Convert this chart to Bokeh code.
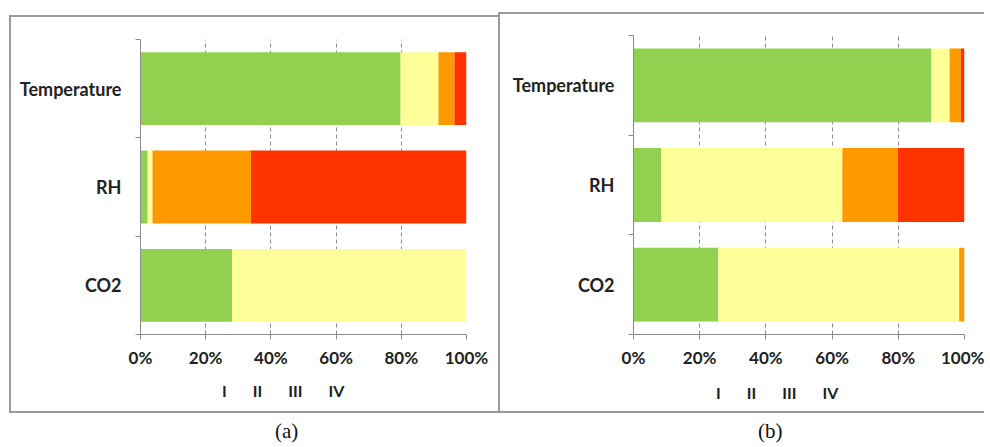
from bokeh.plotting import figure
from bokeh.models import (Range1d, FixedTicker, PrintfTickFormatter, Legend, LegendItem,
                          Div, ColumnDataSource, Spacer, CDSView, IndexFilter)
from bokeh.layouts import row, column
from bokeh.embed import file_html
from bokeh.resources import INLINE

# ---- data ----
categories = ["CO2", "RH", "Temperature"]          # bottom to top
levels = ["I", "II", "III", "IV"]
colors = ["#92D050", "#FFFF99", "#FF9900", "#FF3300"]
x_ticks = [0, 20, 40, 60, 80, 100]

a_I = [28.1, 2.2, 79.8]
a_II = [71.9, 1.5, 11.6]
a_III = [0.0, 30.2, 4.9]
a_IV = [0.0, 66.1, 3.7]

b_I = [25.6, 8.4, 90.0]
b_II = [72.8, 54.7, 5.5]
b_III = [1.6, 16.8, 3.4]
b_IV = [0.0, 20.1, 1.1]

FONT = "Lato"
TXT = "#222222"
GRAY = "#8c8c8c"
BORDER = "2px solid #9a9a9a"


def make_source(series):
    data = dict(y=[i + 0.5 for i in range(len(categories))])
    for lv, vals in zip(levels, series):
        data[lv] = vals
    return ColumnDataSource(data)


def make_chart(src, width, height, mbl, mbr, mbt, mbb):
    p = figure(width=width, height=height, x_range=Range1d(0, 100),
               y_range=Range1d(0, len(categories)), output_backend="svg",
               toolbar_location=None, min_border_left=mbl, min_border_right=mbr,
               min_border_top=mbt, min_border_bottom=mbb)
    p.styles = {"border-left": BORDER, "border-top": BORDER}
    p.outline_line_color = None
    p.hbar_stack(levels, y="y", height=0.74, color=colors, source=src, line_width=0)

    xa = p.xaxis[0]
    xa.ticker = FixedTicker(ticks=x_ticks, minor_ticks=[])
    xa.formatter = PrintfTickFormatter(format="%d%%")
    xa.axis_line_color = GRAY
    xa.major_tick_line_color = GRAY
    xa.major_tick_out = 5
    xa.major_tick_in = 0
    xa.minor_tick_out = 0
    xa.major_label_standoff = 7
    xa.major_label_text_font = FONT
    xa.major_label_text_font_style = "bold"
    xa.major_label_text_font_size = "17px"
    xa.major_label_text_color = TXT

    ya = p.yaxis[0]
    ya.ticker = FixedTicker(ticks=[i + 0.5 for i in range(len(categories))],
                            minor_ticks=list(range(len(categories) + 1)))
    ya.major_label_overrides = {i + 0.5: c for i, c in enumerate(categories)}
    ya.axis_line_color = GRAY
    ya.major_tick_out = 0
    ya.major_tick_in = 0
    ya.minor_tick_out = 5
    ya.minor_tick_in = 0
    ya.minor_tick_line_color = GRAY
    ya.major_label_standoff = 14
    ya.major_label_text_font = FONT
    ya.major_label_text_font_style = "bold"
    ya.major_label_text_font_size = "18px"
    ya.major_label_text_color = TXT

    p.ygrid.visible = False
    p.xgrid.ticker = FixedTicker(ticks=x_ticks[1:], minor_ticks=[])
    p.xgrid.grid_line_color = GRAY
    p.xgrid.grid_line_dash = "4 3"
    p.xgrid.grid_line_width = 1
    return p


def make_legend_fig(src, width, height, loc):
    # strip below the chart that carries the legend; its bars are filtered out of view
    p = figure(width=width, height=height, x_range=Range1d(0, 100),
               y_range=Range1d(100, 101), output_backend="svg",
               toolbar_location=None, x_axis_location=None, y_axis_location=None,
               min_border_left=0, min_border_right=0, min_border_top=0,
               min_border_bottom=0)
    p.styles = {"border-left": BORDER, "border-bottom": BORDER}
    p.outline_line_color = None
    p.grid.visible = False
    rs = p.hbar_stack(levels, y="y", height=0.74, color=colors, source=src, line_width=0,
                      view=CDSView(filter=IndexFilter(indices=[])))
    legend = Legend(items=[LegendItem(label=lv, renderers=[r]) for lv, r in zip(levels, rs)],
                    orientation="horizontal", location=loc,
                    glyph_width=11, glyph_height=11, label_standoff=4, spacing=11,
                    label_width=1, padding=0, margin=0, border_line_color=None,
                    background_fill_alpha=0, label_text_font=FONT,
                    label_text_font_style="bold", label_text_font_size="16px",
                    label_text_color=TXT)
    p.add_layout(legend)
    return p


src_a = make_source([a_I, a_II, a_III, a_IV])
src_b = make_source([b_I, b_II, b_III, b_IV])

ca = make_chart(src_a, 489, 353, 129, 34, 22, 34)
la = make_legend_fig(src_a, 489, 45, (67, 13))
cb = make_chart(src_b, 486, 356, 133, 22, 21, 33)
lb = make_legend_fig(src_b, 486, 45, (68, 11))

cap = {"font-family": "Liberation Serif", "font-size": "21px", "color": "#111111"}
da = Div(text="(a)", width=200, height=26,
         styles=dict(cap, **{"margin-left": "266px", "margin-top": "3px"}))
db = Div(text="(b)", width=200, height=26,
         styles=dict(cap, **{"margin-left": "260px", "margin-top": "3px"}))

col_a = column(Spacer(width=10, height=15), ca, la, da, spacing=0)
col_b = column(Spacer(width=10, height=12), cb, lb, db, spacing=0)
layout = row(Spacer(width=9, height=10), col_a, col_b, spacing=0)

open("out.html", "w").write(file_html(layout, INLINE))
